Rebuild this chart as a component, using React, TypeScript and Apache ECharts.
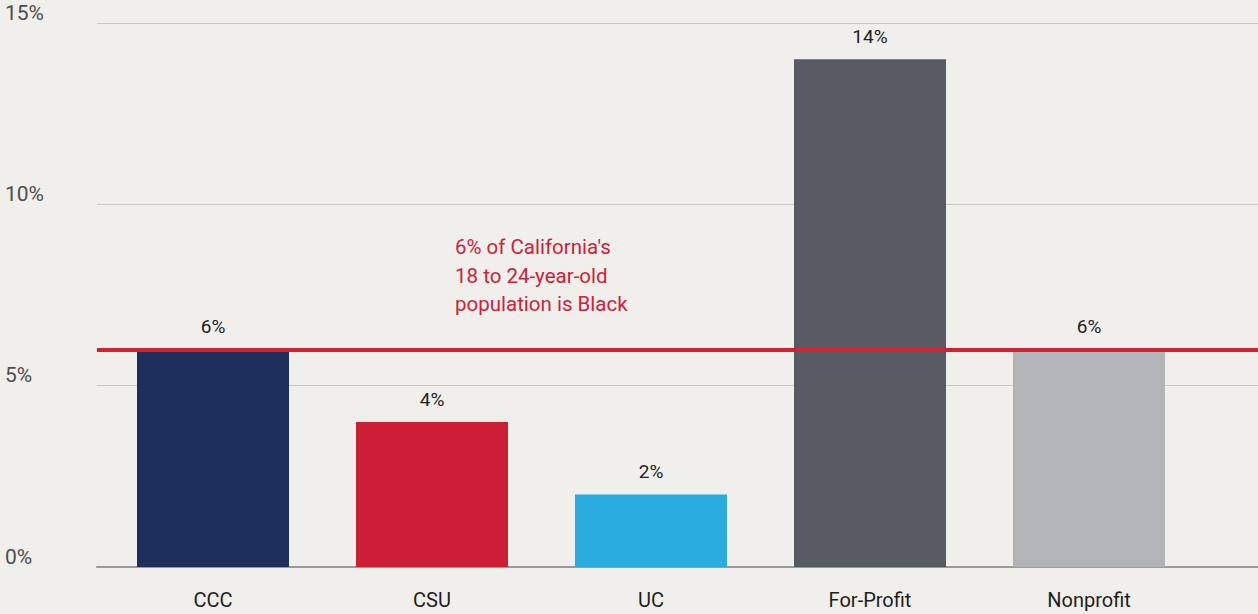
import React, { useEffect, useRef } from "react";
import * as echarts from "echarts";

const categories = ["CCC", "CSU", "UC", "For-Profit", "Nonprofit"];
const values = [6, 4, 2, 14, 6];
const barColors = ["#1f2f5d", "#cc1f36", "#2aace0", "#575b64", "#b3b4b7"];
const yTicks = [0, 5, 10, 15];
const referenceValue = 6;
const annotationLines = ["6% of California's", "18 to 24-year-old", "population is Black"];

const FONT = "Roboto, 'Open Sans', sans-serif";

export default function App() {
  const ref = useRef<HTMLDivElement>(null);
  useEffect(() => {
    if (!ref.current) return;
    const chart = echarts.init(ref.current, undefined, { renderer: "svg" });
    chart.setOption({
      animation: false,
      backgroundColor: "#f1efeb",
      textStyle: { fontFamily: FONT },
      grid: [
        { left: 97, right: 0, top: 23, bottom: 47 },
        { left: 103.5, width: 1095, top: 23, bottom: 47 },
      ],
      xAxis: [
        {
          type: "value",
          gridIndex: 0,
          min: 0,
          max: 1,
          axisLabel: { show: false },
          axisTick: { show: false },
          splitLine: { show: false },
          axisLine: { show: true, lineStyle: { color: "#9a9a9a", width: 2 } },
        },
        {
          type: "category",
          gridIndex: 1,
          data: categories,
          axisLine: { show: false },
          axisTick: { show: false },
          axisLabel: { margin: 23, fontSize: 20, color: "#1e1e1e", fontFamily: FONT },
        },
      ],
      yAxis: [
        {
          type: "value",
          gridIndex: 0,
          min: 0,
          max: 15,
          interval: 5,
          axisLine: { show: false },
          axisTick: { show: false },
          splitLine: { show: true, lineStyle: { color: "#c9c9c9", width: 1 } },
          axisLabel: {
            margin: 92,
            align: "left",
            verticalAlign: "bottom",
            fontSize: 21,
            color: "#4d4d4d",
            fontFamily: FONT,
            formatter: (v: number) => (yTicks.includes(v) ? `${v}%` : ""),
          },
        },
        {
          type: "value",
          gridIndex: 1,
          min: 0,
          max: 15,
          show: false,
        },
      ],
      graphic: [
        {
          type: "text",
          left: 455,
          top: 233,
          style: {
            text: annotationLines.join("\n"),
            fill: "#d0213a",
            font: `20.5px ${FONT}`,
            lineHeight: 28.5,
          },
        },
      ],
      series: [
        {
          type: "bar",
          xAxisIndex: 1,
          yAxisIndex: 1,
          barWidth: 152,
          z: 3,
          data: values.map((v, i) => ({ value: v, itemStyle: { color: barColors[i] } })),
          label: {
            show: true,
            position: "top",
            distance: 13,
            formatter: "{c}%",
            fontSize: 19,
            color: "#222",
            fontFamily: FONT,
          },
        },
        {
          type: "line",
          xAxisIndex: 0,
          yAxisIndex: 0,
          data: [],
          z: 10,
          markLine: {
            silent: true,
            symbol: "none",
            label: { show: false },
            lineStyle: { color: "#da202f", width: 4, type: "solid" },
            data: [{ yAxis: referenceValue }],
            z: 10,
          },
        },
      ],
    });
    return () => chart.dispose();
  }, []);
  return (
    <div
      ref={ref}
      style={{ position: "fixed", left: 0, top: 0, width: 1258, height: 614 }}
    />
  );
}
